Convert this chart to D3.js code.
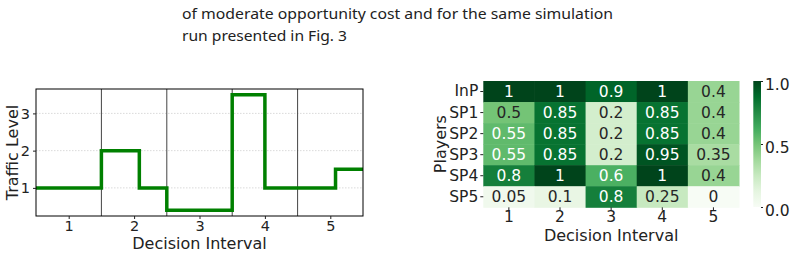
<!DOCTYPE html>
<html>
<head>
<meta charset="utf-8">
<script src="https://cdn.jsdelivr.net/npm/d3@7"></script>
<style>
  body { margin: 0; background: #fff; }
  svg { display: block; }
  .cap { font-family: "Noto Sans", "Open Sans", sans-serif; font-size: 15px; fill: #222; }
  .plot text { font-family: "DejaVu Sans", sans-serif; fill: #222; }
</style>
</head>
<body>
<svg id="chart" width="794" height="255"></svg>
<script>
// caption lines
const captionLines = [
  "of moderate opportunity cost and for the same simulation",
  "run presented in Fig. 3"
];
const captionWidths = [431, 165];

// left chart: step line (x breakpoints, level for each segment)
const stepX = [0.5, 1.5, 2.08, 2.5, 3.5, 4.0, 5.08, 5.5];
const stepY = [1, 2, 1, 0.4, 3.5, 1, 1.5];
const intervals = [1, 2, 3, 4, 5];
const dividers = [1.5, 2.5, 3.5, 4.5];
const trafficTicks = [1, 2, 3];

// heatmap
const players = ["InP", "SP1", "SP2", "SP3", "SP4", "SP5"];
const heatValues = [
  [1, 1, 0.9, 1, 0.4],
  [0.5, 0.85, 0.2, 0.85, 0.4],
  [0.55, 0.85, 0.2, 0.85, 0.4],
  [0.55, 0.85, 0.2, 0.95, 0.35],
  [0.8, 1, 0.6, 1, 0.4],
  [0.05, 0.1, 0.8, 0.25, 0]
];
const cbarTicks = [0, 0.5, 1];
const greens = ["#f7fcf5","#e5f5e0","#c7e9c0","#a1d99b","#74c476","#41ab5d","#238b45","#006d2c","#00441b"];

const svg = d3.select("#chart");

// caption
svg.append("g").selectAll("text")
  .data(captionLines)
  .enter().append("text")
  .attr("class", "cap")
  .attr("x", 182)
  .attr("y", (d, i) => 19 + i * 22)
  .attr("textLength", (d, i) => captionWidths[i])
  .attr("lengthAdjust", "spacingAndGlyphs")
  .text(d => d);

// ---------- left chart ----------
const L = { left: 36, right: 363, top: 89, bottom: 216 };
const gL = svg.append("g").attr("class", "plot");

const x = d3.scaleLinear().domain([0.5, 5.5]).range([L.left, L.right]);
const y = d3.scaleLinear().domain([0.245, 3.655]).range([L.bottom, L.top]);

// grid
gL.append("g").selectAll("line")
  .data(trafficTicks)
  .enter().append("line")
  .attr("x1", L.left).attr("x2", L.right)
  .attr("y1", d => y(d)).attr("y2", d => y(d))
  .attr("stroke", "#d0d0d0").attr("stroke-width", 0.8)
  .attr("stroke-dasharray", "1.5,1.5");

// dividers
gL.append("g").selectAll("line")
  .data(dividers)
  .enter().append("line")
  .attr("x1", d => x(d)).attr("x2", d => x(d))
  .attr("y1", L.top).attr("y2", L.bottom)
  .attr("stroke", "#444").attr("stroke-width", 1);

// step line
const stepPts = stepX.map((sx, i) => [sx, stepY[Math.min(i, stepY.length - 1)]]);
const line = d3.line().x(d => x(d[0])).y(d => y(d[1])).curve(d3.curveStepAfter);
gL.append("clipPath").attr("id", "clipL")
  .append("rect").attr("x", L.left).attr("y", L.top)
  .attr("width", L.right - L.left).attr("height", L.bottom - L.top);
gL.append("path")
  .datum(stepPts)
  .attr("d", line)
  .attr("clip-path", "url(#clipL)")
  .attr("fill", "none")
  .attr("stroke", "#008000")
  .attr("stroke-width", 3.5);

// frame
gL.append("rect")
  .attr("x", L.left).attr("y", L.top)
  .attr("width", L.right - L.left).attr("height", L.bottom - L.top)
  .attr("fill", "none").attr("stroke", "#000").attr("stroke-width", 1);

// axes
const xAx = gL.append("g").attr("transform", `translate(0,${L.bottom})`)
  .call(d3.axisBottom(x).tickValues(intervals).tickSize(3).tickPadding(2).tickFormat(d3.format("d")));
const yAx = gL.append("g").attr("transform", `translate(${L.left},0)`)
  .call(d3.axisLeft(y).tickValues(trafficTicks).tickSize(3).tickPadding(3).tickFormat(d3.format("d")));
[xAx, yAx].forEach(a => {
  a.select(".domain").remove();
  a.attr("font-size", null).attr("font-family", null);
  a.selectAll("text").style("font-size", "14.5px").attr("fill", "#222");
  a.selectAll(".tick line").attr("stroke", "#222");
});

gL.append("text")
  .attr("x", (L.left + L.right) / 2).attr("y", 249)
  .attr("text-anchor", "middle").style("font-size", "16px")
  .text("Decision Interval");
gL.append("text")
  .attr("transform", `translate(18,${(L.top + L.bottom) / 2}) rotate(-90)`)
  .attr("text-anchor", "middle").style("font-size", "16px")
  .text("Traffic Level");

// ---------- heatmap ----------
const H = { left: 483.3, right: 739, top: 81, bottom: 207.3 };
const gH = svg.append("g").attr("class", "plot");

const cx = d3.scaleBand().domain(intervals).range([H.left, H.right]);
const cy = d3.scaleBand().domain(players).range([H.top, H.bottom]);
const color = d3.scaleLinear().domain(d3.range(9).map(i => i / 8)).range(greens).clamp(true);

function lum(c) {
  const rgb = d3.rgb(c);
  const f = v => { v /= 255; return v <= 0.03928 ? v / 12.92 : Math.pow((v + 0.055) / 1.055, 2.4); };
  return 0.2126 * f(rgb.r) + 0.7152 * f(rgb.g) + 0.0722 * f(rgb.b);
}

const cells = [];
heatValues.forEach((row, r) => row.forEach((v, c) => cells.push({ p: players[r], k: intervals[c], v })));

gH.append("g").selectAll("rect")
  .data(cells)
  .enter().append("rect")
  .attr("x", d => cx(d.k)).attr("y", d => cy(d.p))
  .attr("width", cx.bandwidth() + 0.5).attr("height", cy.bandwidth() + 0.5)
  .attr("fill", d => color(d.v));

gH.append("g").selectAll("text")
  .data(cells)
  .enter().append("text")
  .attr("x", d => cx(d.k) + cx.bandwidth() / 2)
  .attr("y", d => cy(d.p) + cy.bandwidth() / 2)
  .attr("dy", "0.36em")
  .attr("text-anchor", "middle")
  .style("font-size", "15.5px")
  .style("fill", d => lum(color(d.v)) > 0.408 ? "#262626" : "#ffffff")
  .text(d => String(d.v));

const hx = gH.append("g").attr("transform", `translate(0,${H.bottom})`)
  .call(d3.axisBottom(cx).tickSize(3).tickPadding(0.5));
const hy = gH.append("g").attr("transform", `translate(${H.left},0)`)
  .call(d3.axisLeft(cy).tickSize(3).tickPadding(2));
[hx, hy].forEach(a => {
  a.select(".domain").remove();
  a.attr("font-size", null).attr("font-family", null);
  a.selectAll(".tick line").attr("stroke", "#222");
  a.selectAll("text").attr("fill", "#222").style("font-size", "15.5px");
});

gH.append("text")
  .attr("x", (H.left + H.right) / 2).attr("y", 241)
  .attr("text-anchor", "middle").style("font-size", "16px")
  .text("Decision Interval");
gH.append("text")
  .attr("transform", `translate(446,${(H.top + H.bottom) / 2}) rotate(-90)`)
  .attr("text-anchor", "middle").style("font-size", "16px")
  .text("Players");

// colorbar
const CB = { left: 753.3, right: 761, top: 81, bottom: 207 };
const defs = svg.append("defs");
const grad = defs.append("linearGradient").attr("id", "cbGrad")
  .attr("x1", 0).attr("y1", 1).attr("x2", 0).attr("y2", 0);
greens.forEach((c, i) => grad.append("stop").attr("offset", i / 8).attr("stop-color", c));
gH.append("rect")
  .attr("x", CB.left).attr("y", CB.top)
  .attr("width", CB.right - CB.left).attr("height", CB.bottom - CB.top)
  .attr("fill", "url(#cbGrad)");
const cbScale = d3.scaleLinear().domain([0, 1]).range([CB.bottom, CB.top]);
const cbAx = gH.append("g").attr("transform", `translate(${CB.right},0)`)
  .call(d3.axisRight(cbScale).tickValues(cbarTicks).tickSize(2).tickPadding(2).tickFormat(d3.format(".1f")));
cbAx.select(".domain").remove();
cbAx.attr("font-size", null).attr("font-family", null);
cbAx.selectAll(".tick line").attr("stroke", "#222");
cbAx.selectAll("text").style("font-size", "15.5px").attr("fill", "#222").attr("dy", "0.55em");
</script>
</body>
</html>
